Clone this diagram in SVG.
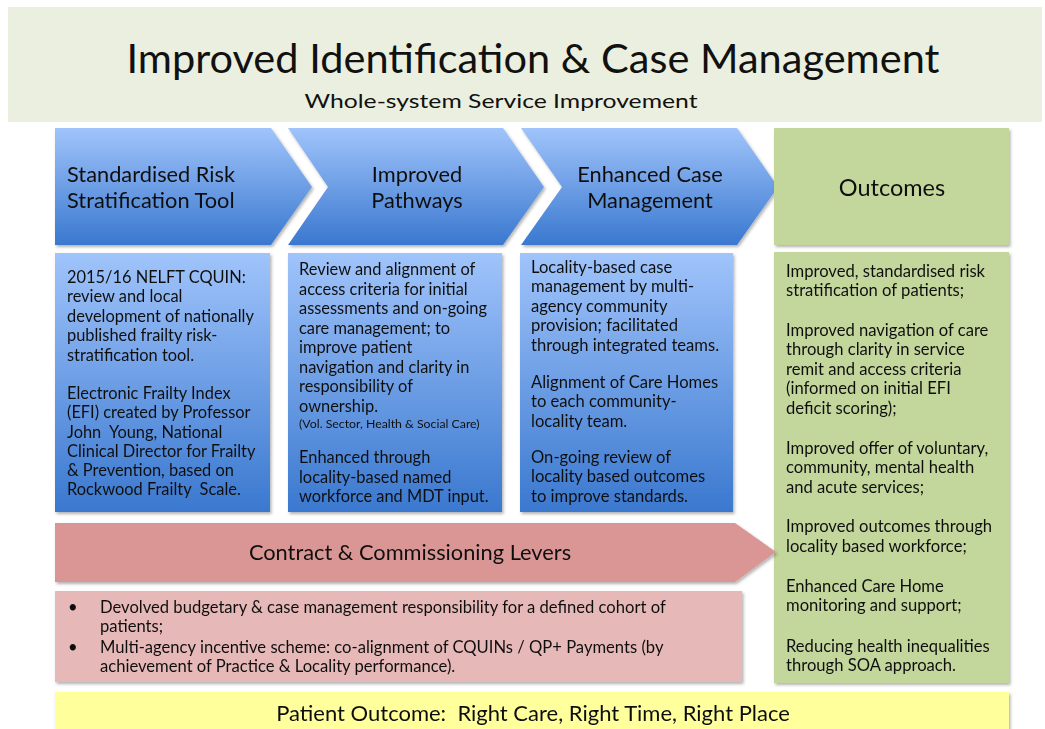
<svg xmlns="http://www.w3.org/2000/svg" width="1045" height="729" viewBox="0 0 1045 729">
<style>
text{font-family:Lato,"Open Sans","Liberation Sans",sans-serif;fill:#111;white-space:pre}
.t{font-size:16.4px}
.s{font-size:16.6px}
.h{font-size:21.8px}
.blue{fill:url(#gb)}
.green{fill:#c3d69b}
</style>
<defs>
<linearGradient id="gb" x1="0" y1="0" x2="0" y2="1">
<stop offset="0" stop-color="#a0c4fb"/>
<stop offset="1" stop-color="#3a78cf"/>
</linearGradient>
<filter id="sh" x="-5%" y="-5%" width="110%" height="115%">
<feDropShadow dx="1.5" dy="2" stdDeviation="1.5" flood-color="#000" flood-opacity="0.3"/>
</filter>
</defs>
<rect width="1045" height="729" fill="#fff"/>
<g id="title">
<rect x="8" y="7" width="1034" height="115" fill="#ebefdf"/>
<text x="533" y="73" text-anchor="middle" font-size="40" textLength="813" lengthAdjust="spacingAndGlyphs">Improved Identification &amp; Case Management</text>
<text x="501" y="108" text-anchor="middle" font-size="20" textLength="393" lengthAdjust="spacingAndGlyphs">Whole-system Service Improvement</text>
</g>
<g id="chevron1" filter="url(#sh)">
<path class="blue" d="M55,128 L271,128 L312,187 L271,245 L55,245 Z"/>
<text class="h" x="67" y="182">Standardised Risk</text>
<text class="h" x="67" y="208">Stratification Tool</text>
</g>
<g id="chevron2" filter="url(#sh)">
<path class="blue" d="M288,128 L503,128 L544,187 L503,245 L288,245 L328,187 Z"/>
<text class="h" x="417" y="182" text-anchor="middle">Improved</text>
<text class="h" x="417" y="208" text-anchor="middle">Pathways</text>
</g>
<g id="chevron3" filter="url(#sh)">
<path class="blue" d="M521,128 L737,128 L778,187 L737,245 L521,245 L562,187 Z"/>
<text class="h" x="650" y="182" text-anchor="middle">Enhanced Case</text>
<text class="h" x="650" y="208" text-anchor="middle">Management</text>
</g>
<g id="outcomes-header" filter="url(#sh)">
<rect class="green" x="774" y="128" width="235" height="117"/>
<text x="892" y="196" text-anchor="middle" font-size="23.5">Outcomes</text>
</g>
<g id="box1" filter="url(#sh)">
<rect class="blue" x="55" y="253" width="215" height="259"/>
<text class="t" x="67" y="283">2015/16 NELFT CQUIN:</text>
<text class="t" x="67" y="302">review and local</text>
<text class="t" x="67" y="322">development of nationally</text>
<text class="t" x="67" y="341">published frailty risk-</text>
<text class="t" x="67" y="361">stratification tool.</text>
<text class="t" x="67" y="399">Electronic Frailty Index</text>
<text class="t" x="67" y="418">(EFI) created by Professor</text>
<text class="t" x="67" y="438">John  Young, National</text>
<text class="t" x="67" y="457">Clinical Director for Frailty</text>
<text class="t" x="67" y="476">&amp; Prevention, based on</text>
<text class="t" x="67" y="495">Rockwood Frailty  Scale.</text>
</g>
<g id="box2" filter="url(#sh)">
<rect class="blue" x="288" y="253" width="214" height="259"/>
<text class="t" x="299" y="275">Review and alignment of</text>
<text class="t" x="299" y="295">access criteria for initial</text>
<text class="t" x="299" y="314">assessments and on-going</text>
<text class="t" x="299" y="334">care management; to</text>
<text class="t" x="299" y="353">improve patient</text>
<text class="t" x="299" y="373">navigation and clarity in</text>
<text class="t" x="299" y="392">responsibility of</text>
<text class="t" x="299" y="412">ownership.</text>
<text x="299" y="428" font-size="12.3">(Vol. Sector, Health &amp; Social Care)</text>
<text class="t" x="299" y="463">Enhanced through</text>
<text class="t" x="299" y="483">locality-based named</text>
<text class="t" x="299" y="502">workforce and MDT input.</text>
</g>
<g id="box3" filter="url(#sh)">
<rect class="blue" x="520" y="253" width="213" height="259"/>
<text class="s" x="531" y="273">Locality-based case</text>
<text class="s" x="531" y="292">management by multi-</text>
<text class="s" x="531" y="312">agency community</text>
<text class="s" x="531" y="331">provision; facilitated</text>
<text class="s" x="531" y="351">through integrated teams.</text>
<text class="s" x="531" y="388">Alignment of Care Homes</text>
<text class="s" x="531" y="407">to each community-</text>
<text class="s" x="531" y="427">locality team.</text>
<text class="s" x="531" y="463">On-going review of</text>
<text class="s" x="531" y="482">locality based outcomes</text>
<text class="s" x="531" y="502">to improve standards.</text>
</g>
<g id="outcomes-list" filter="url(#sh)">
<rect class="green" x="774" y="252" width="235" height="431"/>
<text class="s" x="786" y="277">Improved, standardised risk</text>
<text class="s" x="786" y="296">stratification of patients;</text>
<text class="s" x="786" y="336">Improved navigation of care</text>
<text class="s" x="786" y="355">through clarity in service</text>
<text class="s" x="786" y="375">remit and access criteria</text>
<text class="s" x="786" y="394">(informed on initial EFI</text>
<text class="s" x="786" y="414">deficit scoring);</text>
<text class="s" x="786" y="454">Improved offer of voluntary,</text>
<text class="s" x="786" y="473">community, mental health</text>
<text class="s" x="786" y="493">and acute services;</text>
<text class="s" x="786" y="532">Improved outcomes through</text>
<text class="s" x="786" y="552">locality based workforce;</text>
<text class="s" x="786" y="592">Enhanced Care Home</text>
<text class="s" x="786" y="611">monitoring and support;</text>
<text class="s" x="786" y="652">Reducing health inequalities</text>
<text class="s" x="786" y="671">through SOA approach.</text>
</g>
<g id="levers-arrow" filter="url(#sh)">
<path d="M55,523 L735,523 L776,552 L735,582 L55,582 Z" fill="#d99694"/>
<text class="h" x="410" y="560" text-anchor="middle">Contract &amp; Commissioning Levers</text>
</g>
<g id="levers-box" filter="url(#sh)">
<rect x="55" y="591" width="687" height="91" fill="#e6b9b8"/>
<text class="s" x="68" y="613">•</text>
<text class="s" x="100" y="613">Devolved budgetary &amp; case management responsibility for a defined cohort of</text>
<text class="s" x="100" y="632">patients;</text>
<text class="s" x="68" y="653">•</text>
<text class="s" x="100" y="653">Multi-agency incentive scheme: co-alignment of CQUINs / QP+ Payments (by</text>
<text class="s" x="100" y="672">achievement of Practice &amp; Locality performance).</text>
</g>
<g id="patient-outcome" filter="url(#sh)">
<rect x="55" y="692" width="954" height="40" fill="#ffff9c"/>
<text x="533" y="721" text-anchor="middle" font-size="22">Patient Outcome:  Right Care, Right Time, Right Place</text>
</g>
<g id="connectors"/>
</svg>
